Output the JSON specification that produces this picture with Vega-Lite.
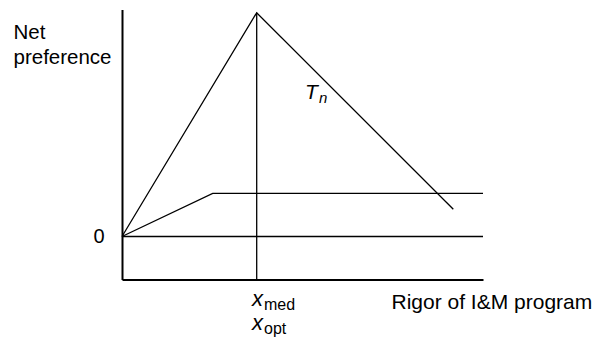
{
  "$schema": "https://vega.github.io/schema/vega-lite/v6.json",
  "autosize": "none",
  "width": 361,
  "height": 270,
  "padding": {"left": 122, "top": 9.5, "right": 111, "bottom": 66.5},
  "background": "white",
  "config": {
    "view": {"stroke": null},
    "font": "Liberation Sans",
    "text": {"font": "Liberation Sans"}
  },
  "datasets": {
    "curves": [
      {"series": "Tn", "x": 0, "y": 0},
      {"series": "Tn", "x": 134.7, "y": 223.8},
      {"series": "Tn", "x": 331.3, "y": 27.2},
      {"series": "lower", "x": 0, "y": 0},
      {"series": "lower", "x": 90.7, "y": 43.2},
      {"series": "lower", "x": 361, "y": 43.2},
      {"series": "zero", "x": 0, "y": 0},
      {"series": "zero", "x": 361, "y": 0},
      {"series": "xmed", "x": 134.7, "y": -43},
      {"series": "xmed", "x": 134.7, "y": 223.8}
    ],
    "labels": [
      {"text": "T", "x": 183, "y": 137.5, "size": 21},
      {"text": "n", "x": 197, "y": 133.5, "size": 15},
      {"text": "x", "x": 130, "y": -69, "size": 22},
      {"text": "x", "x": 130, "y": -93, "size": 22}
    ],
    "subs": [
      {"text": "med", "x": 142, "y": -73, "size": 16},
      {"text": "opt", "x": 142, "y": -97, "size": 16}
    ]
  },
  "layer": [
    {
      "data": {"name": "curves"},
      "mark": {"type": "line", "color": "black", "strokeWidth": 1.3, "clip": false},
      "encoding": {
        "x": {
          "field": "x", "type": "quantitative",
          "scale": {"domain": [0, 361], "nice": false, "zero": false},
          "axis": {
            "domain": true, "domainColor": "black", "domainWidth": 2,
            "ticks": false, "labels": false, "grid": false,
            "title": "Rigor of I&M program",
            "titleFont": "Liberation Sans", "titleFontSize": 21, "titleFontWeight": "normal",
            "titleColor": "black", "titleAlign": "left", "titleBaseline": "alphabetic",
            "titleX": 269, "titleY": 29
          }
        },
        "y": {
          "field": "y", "type": "quantitative",
          "scale": {"domain": [-43, 227], "nice": false, "zero": false},
          "axis": {
            "values": [0],
            "domain": true, "domainColor": "black", "domainWidth": 2,
            "ticks": false, "grid": false,
            "labelFont": "Liberation Sans", "labelFontSize": 20, "labelColor": "black",
            "labelPadding": 18,
            "title": ["Net", "preference"],
            "titleFont": "Liberation Sans", "titleFontSize": 20.5, "titleFontWeight": "normal",
            "titleColor": "black", "titleAngle": 0, "titleAlign": "left", "titleBaseline": "alphabetic",
            "titleLineHeight": 25,
            "titleX": -109, "titleY": 29
          }
        },
        "detail": {"field": "series"}
      }
    },
    {
      "data": {"name": "labels"},
      "mark": {"type": "text", "fontStyle": "italic", "align": "left", "baseline": "alphabetic", "color": "black", "font": "Liberation Sans"},
      "encoding": {
        "x": {"field": "x", "type": "quantitative"},
        "y": {"field": "y", "type": "quantitative"},
        "text": {"field": "text"},
        "size": {"field": "size", "type": "quantitative", "scale": null, "legend": null}
      }
    },
    {
      "data": {"name": "subs"},
      "mark": {"type": "text", "align": "left", "baseline": "alphabetic", "color": "black", "font": "Liberation Sans"},
      "encoding": {
        "x": {"field": "x", "type": "quantitative"},
        "y": {"field": "y", "type": "quantitative"},
        "text": {"field": "text"},
        "size": {"field": "size", "type": "quantitative", "scale": null, "legend": null}
      }
    }
  ]
}
